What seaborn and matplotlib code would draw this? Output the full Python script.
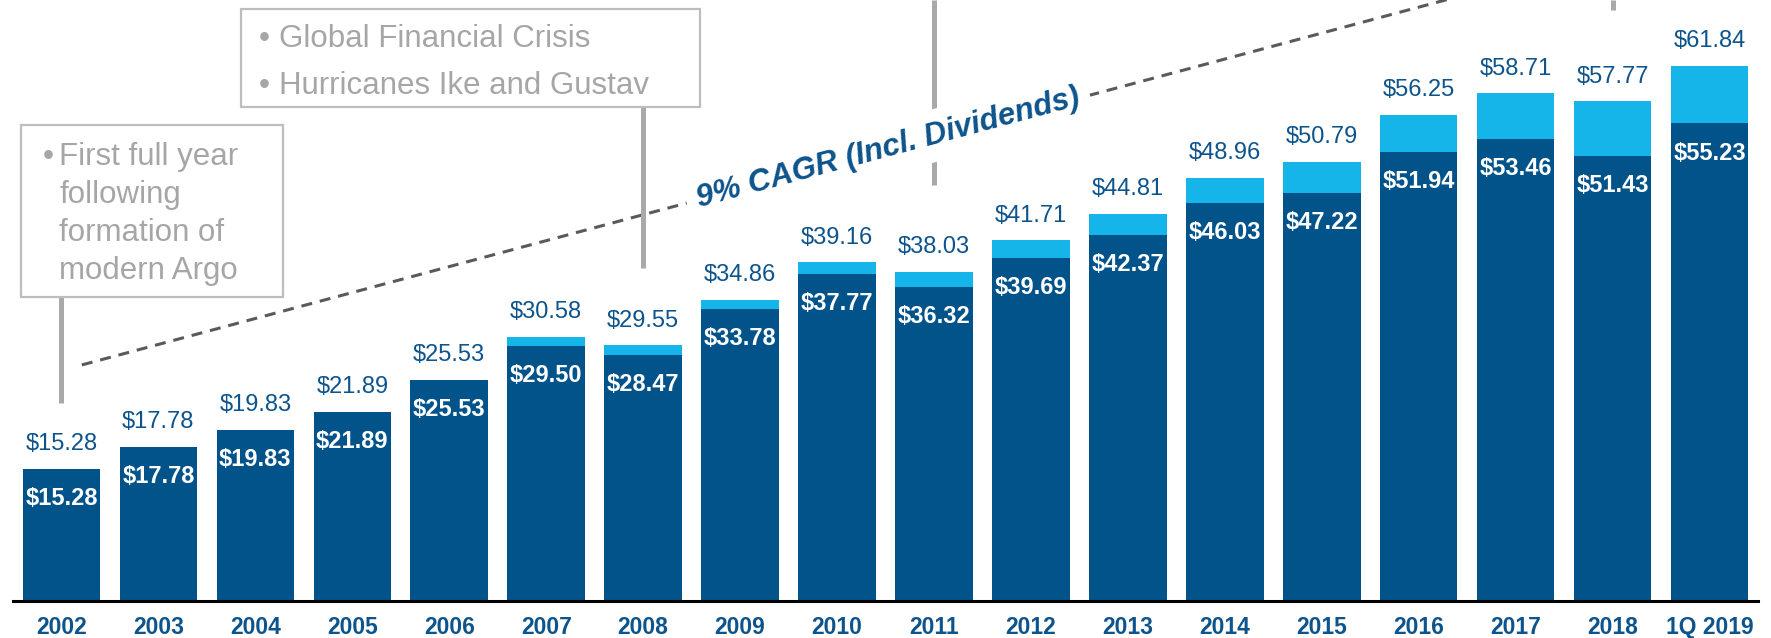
import matplotlib
matplotlib.use("Agg")
import matplotlib.pyplot as plt
import matplotlib.transforms as mtransforms
from matplotlib.patches import Rectangle
import numpy as np
import pandas as pd
import seaborn as sns

# ---------------- data ----------------
categories = ["2002", "2003", "2004", "2005", "2006", "2007", "2008", "2009", "2010",
              "2011", "2012", "2013", "2014", "2015", "2016", "2017", "2018", "1Q 2019"]
book_value = [15.28, 17.78, 19.83, 21.89, 25.53, 29.50, 28.47, 33.78, 37.77,
              36.32, 39.69, 42.37, 46.03, 47.22, 51.94, 53.46, 51.43, 55.23]
total_incl_dividends = [15.28, 17.78, 19.83, 21.89, 25.53, 30.58, 29.55, 34.86, 39.16,
                        38.03, 41.71, 44.81, 48.96, 50.79, 56.25, 58.71, 57.77, 61.84]
cagr_label = "9% CAGR (Incl. Dividends)"
note_first = ["First full year", "following", "formation of", "modern Argo"]
note_crisis = ["Global Financial Crisis", "Hurricanes Ike and Gustav"]

# ---------------- style ----------------
DARK = "#02538a"
LIGHT = "#15b5e9"
TEXT_BLUE = "#0d548c"
GREY_TEXT = "#a6a6a6"
BOX_EDGE = "#bdbdbd"
LINE_GREY = "#a9a9a9"
DASH = "#5a5a5a"

sns.set_theme(style="white")
plt.rcParams["font.family"] = ["Liberation Sans", "DejaVu Sans"]

W, H, DPI = 1771, 638, 100
fig = plt.figure(figsize=(W / DPI, H / DPI), dpi=DPI)
ax = fig.add_axes([13 / W, 37 / H, 1745 / W, 601 / H])

df = pd.DataFrame({"category": categories, "book": book_value, "total": total_incl_dividends})
sns.barplot(data=df, x="category", y="total", color=LIGHT, saturation=1, width=0.8,
            linewidth=0, ax=ax, zorder=2)
sns.barplot(data=df, x="category", y="book", color=DARK, saturation=1, width=0.8,
            linewidth=0, ax=ax, zorder=2)

n = len(categories)
ax.set_xlim(-0.5, n - 0.5)
ax.set_ylim(0, 69.5)
ax.set_xlabel("")
ax.set_ylabel("")
ax.set_yticks([])
for s in ["left", "top", "right"]:
    ax.spines[s].set_visible(False)
ax.spines["bottom"].set_color("black")
ax.spines["bottom"].set_linewidth(2.2)
ax.set_xticks(np.arange(-0.5, n), minor=True)
ax.tick_params(axis="x", which="major", length=0, pad=11, labelsize=16.5, labelcolor=TEXT_BLUE)
ax.tick_params(axis="x", which="minor", length=5, width=1.8, color="black", direction="out")
for lab in ax.get_xticklabels():
    lab.set_fontweight("bold")

# value labels
for i, (b, t) in enumerate(zip(book_value, total_incl_dividends)):
    ax.annotate(f"${t:.2f}", (i, t), xytext=(0, 13.5), textcoords="offset points",
                ha="center", va="baseline", fontsize=17, color=TEXT_BLUE, zorder=6)
    ax.annotate(f"${b:.2f}", (i, b), xytext=(0, -26), textcoords="offset points",
                ha="center", va="baseline", fontsize=17, fontweight="bold", color="white", zorder=6)

# pixel transform (origin top-left) for annotation layout
px = mtransforms.Affine2D().scale(1 / DPI, -1 / DPI).translate(0, H / DPI) + fig.dpi_scale_trans
bx = mtransforms.blended_transform_factory(ax.transData, px)

# CAGR dashed line
ax.plot([0.21, 14.6], [27.3, 27.3 + 3.0 * (14.6 - 0.21)], color=DASH, lw=2.2,
        dashes=(3.6, 2.6), zorder=3, clip_on=True)
ax.text(888, 148, cagr_label, transform=px, rotation=15, rotation_mode="anchor",
        ha="center", va="center", fontsize=22.5, fontweight="bold", fontstyle="italic",
        color=TEXT_BLUE, zorder=5,
        bbox=dict(boxstyle="square,pad=0.35", fc="white", ec="none"))

# callout lines
i2002 = categories.index("2002")
i2008 = categories.index("2008")
i2011 = categories.index("2011")
i2018 = categories.index("2018")
for xi, y0, y1 in [(i2002, 297, 403), (i2008, 107, 268), (i2011, 0, 185), (i2018, 0, 10)]:
    ax.plot([xi, xi], [y0, y1], transform=bx, color=LINE_GREY, lw=3.6,
            solid_capstyle="butt", clip_on=False, zorder=4)

# callout boxes
ax.add_patch(Rectangle((20.5, 125), 262.5, 172, transform=px, facecolor="white",
                       edgecolor=BOX_EDGE, lw=1.6, clip_on=False, zorder=6))
ax.add_patch(Rectangle((240.5, 9.3), 459.5, 97.5, transform=px, facecolor="white",
                       edgecolor=BOX_EDGE, lw=1.6, clip_on=False, zorder=6))

ax.text(43, 165, "\u2022", transform=px, ha="left", va="baseline", fontsize=22.5,
        color=GREY_TEXT, zorder=7)
for k, line in enumerate(note_first):
    ax.text(59, 165 + 38 * k, line, transform=px, ha="left", va="baseline",
            fontsize=22.5, color=GREY_TEXT, zorder=7)
for k, line in enumerate(note_crisis):
    ax.text(259, 47 + 47 * k, "\u2022", transform=px, ha="left", va="baseline",
            fontsize=22.5, color=GREY_TEXT, zorder=7)
    ax.text(279, 47 + 47 * k, line, transform=px, ha="left", va="baseline",
            fontsize=22.5, color=GREY_TEXT, zorder=7)

fig.savefig("out.png", dpi=DPI, facecolor="white")
